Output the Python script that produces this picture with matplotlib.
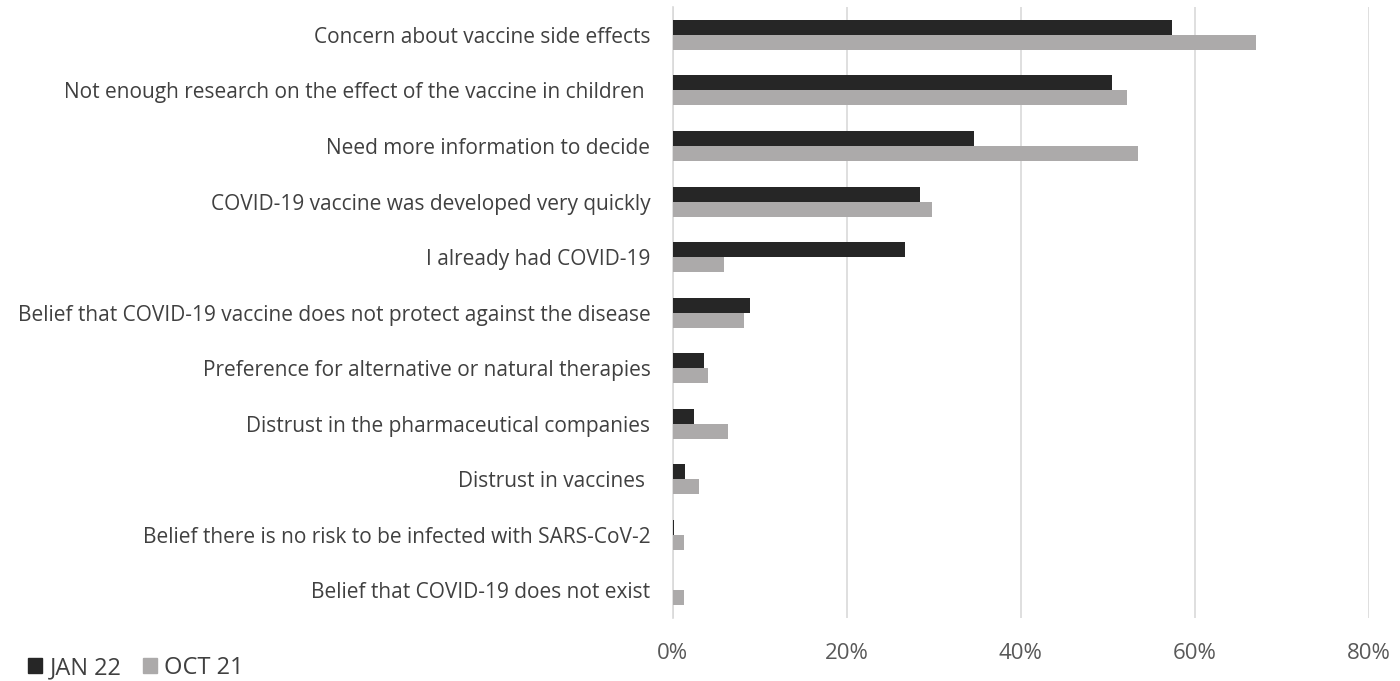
import matplotlib.pyplot as plt
import numpy as np
from matplotlib.patches import Patch

plt.rcParams['font.family'] = ['Open Sans', 'DejaVu Sans']

# Reasons (top to bottom as in the chart)
reasons = [
    "Concern about vaccine side effects",
    "Not enough research on the effect of the vaccine in children ",
    "Need more information to decide",
    "COVID-19 vaccine was developed very quickly",
    "I already had COVID-19",
    "Belief that COVID-19 vaccine does not protect against the disease",
    "Preference for alternative or natural therapies",
    "Distrust in the pharmaceutical companies",
    "Distrust in vaccines ",
    "Belief there is no risk to be infected with SARS-CoV-2",
    "Belief that COVID-19 does not exist",
]
jan22 = [57.4, 50.5, 34.6, 28.4, 26.7, 8.9, 3.6, 2.5, 1.4, 0.2, 0.0]
oct21 = [67.1, 52.2, 53.5, 29.8, 5.9, 8.2, 4.1, 6.4, 3.0, 1.3, 1.3]
series_names = ["JAN 22", "OCT 21"]
xticks = [0, 20, 40, 60, 80]

col_jan = "#262626"
col_oct = "#acaaaa"
txt = "#404040"

fig = plt.figure(figsize=(14, 6.81), dpi=100)
ax = fig.add_axes([0.4805, 0.0925, 0.497, 0.897])

y = np.arange(len(reasons))
h = 0.27
ax.barh(y - h / 2, jan22, height=h, color=col_jan, zorder=3)
ax.barh(y + h / 2, oct21, height=h, color=col_oct, zorder=3)

ax.set_ylim(len(reasons) - 0.5, -0.5)
ax.set_xlim(0, 80)
ax.set_yticks(y)
ax.set_yticklabels(reasons, fontsize=15, color=txt)
ax.set_xticks(xticks)
ax.set_xticklabels([f"{v}%" for v in xticks], fontsize=16, color="#595959")
ax.tick_params(axis='both', length=0)
ax.tick_params(axis='y', pad=16)
ax.tick_params(axis='x', pad=18)

ax.grid(axis='x', color="#d9d9d9", linewidth=1.2, zorder=0)
for s in ['top', 'right', 'bottom']:
    ax.spines[s].set_visible(False)
ax.spines['left'].set_color("#d9d9d9")
ax.spines['left'].set_linewidth(1.2)

handles = [Patch(color=col_jan), Patch(color=col_oct)]
fig.legend(handles, series_names, loc='lower left', bbox_to_anchor=(0.005, -0.03),
           ncol=2, frameon=False, fontsize=17, labelcolor=txt,
           handlelength=0.6, handleheight=0.6, handletextpad=0.3, columnspacing=0.9)

fig.savefig("out.png", dpi=100, facecolor="white")
